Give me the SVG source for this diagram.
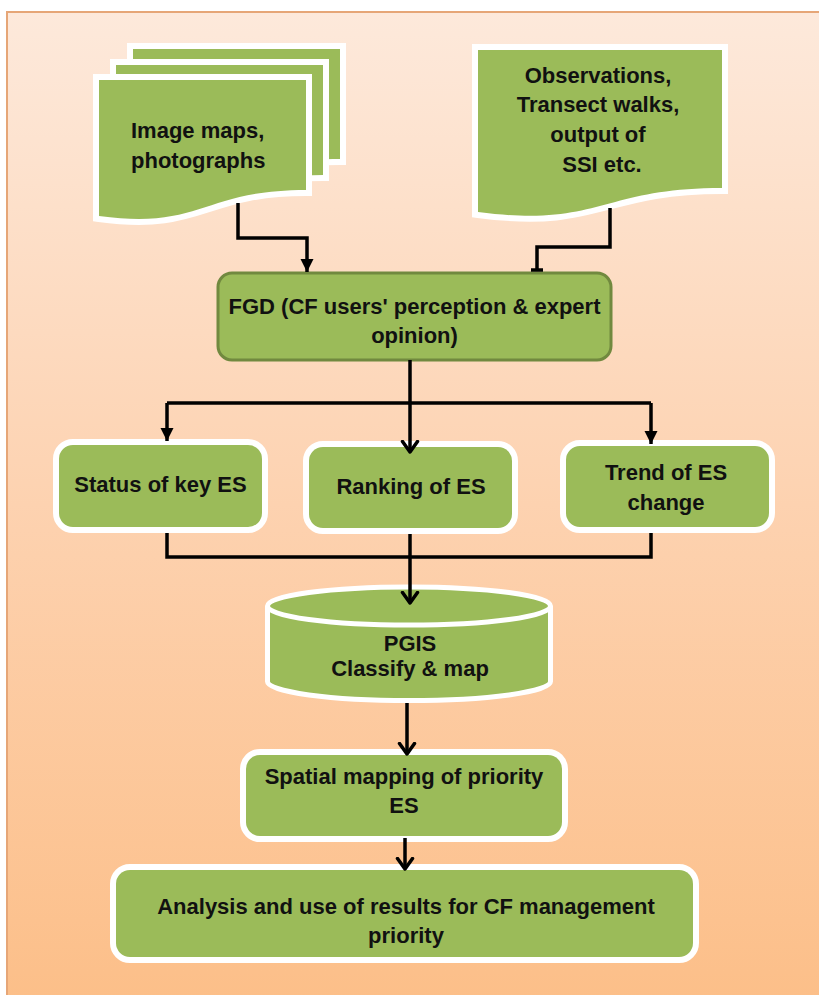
<svg xmlns="http://www.w3.org/2000/svg" width="819" height="995" viewBox="0 0 819 995">
<defs>
<linearGradient id="bg" x1="0" y1="0" x2="0" y2="1">
<stop offset="0" stop-color="#fde9db"/>
<stop offset="0.5" stop-color="#fdd2b0"/>
<stop offset="1" stop-color="#fcbf89"/>
</linearGradient>
<marker id="tri" markerUnits="userSpaceOnUse" markerWidth="15" markerHeight="15" refX="13" refY="6.5" orient="auto" viewBox="0 0 15 13">
<path d="M0,0 L13,6.5 L0,13 z" fill="#000"/>
</marker>
<marker id="chev" markerUnits="userSpaceOnUse" markerWidth="16" markerHeight="20" refX="12" refY="9" orient="auto" viewBox="0 0 16 18">
<path d="M1.5,1.5 L12,9 L1.5,16.5" fill="none" stroke="#000" stroke-width="3.5" stroke-linecap="round" stroke-linejoin="round"/>
</marker>
<style>
.node{fill:#9bbb59;stroke:#fff;stroke-width:12;paint-order:stroke;}
.doc{fill:#9bbb59;stroke:#fff;stroke-width:12;paint-order:stroke;stroke-linejoin:miter;}
.fgd{fill:#9bbb59;stroke:#71893f;stroke-width:3;}
.cyl{fill:#9bbb59;stroke:#fff;stroke-width:5;}
.lbl{font-family:"Liberation Sans",Arial,sans-serif;font-weight:bold;font-size:22px;fill:#111;}
.mid{text-anchor:middle;}
.conn{fill:none;stroke:#000;stroke-width:3.5;}
</style>
</defs>
<rect x="0" y="0" width="819" height="995" fill="#fff"/>
<rect x="7" y="12" width="814" height="985" fill="url(#bg)" stroke="#e6a677" stroke-width="2"/>

<g id="image-maps">
<path class="doc" d="M133,49 H340 V159 C236,159 236,199 133,185 Z"/>
<path class="doc" d="M116,65 H323 V175 C219,175 219,215 116,201 Z"/>
<path class="doc" d="M99,80 H306 V190 C202,190 202,230 99,216 Z"/>
<text class="lbl" x="131" y="138">Image maps,</text>
<text class="lbl" x="131" y="168">photographs</text>
</g>

<g id="observations">
<path class="doc" d="M478,50 H722 V188 C600,188 600,228 478,212 Z"/>
<text class="lbl mid" x="598" y="83">Observations,</text>
<text class="lbl mid" x="598" y="112">Transect walks,</text>
<text class="lbl mid" x="598" y="142">output of</text>
<text class="lbl mid" x="602" y="172">SSI etc.</text>
</g>

<g id="fgd">
<rect class="fgd" x="218" y="273" width="393" height="87" rx="14"/>
<text class="lbl mid" x="414.5" y="314">FGD (CF users' perception &amp; expert</text>
<text class="lbl mid" x="414.5" y="343">opinion)</text>
</g>

<g id="status">
<rect class="node" x="59" y="445" width="203" height="82" rx="14"/>
<text class="lbl mid" x="160.5" y="492">Status of key ES</text>
</g>

<g id="ranking">
<rect class="node" x="309" y="447" width="203" height="81" rx="14"/>
<text class="lbl mid" x="411" y="494">Ranking of ES</text>
</g>

<g id="trend">
<rect class="node" x="566" y="446" width="203" height="81" rx="14"/>
<text class="lbl mid" x="666" y="480">Trend of ES</text>
<text class="lbl mid" x="666" y="510">change</text>
</g>

<g id="pgis">
<path class="cyl" d="M267.5,606 V681.5 A141.5,19 0 0 0 550.5,681.5 V606"/>
<ellipse class="cyl" cx="409" cy="606" rx="141.5" ry="19"/>
<text class="lbl mid" x="410" y="651">PGIS</text>
<text class="lbl mid" x="410" y="676">Classify &amp; map</text>
</g>

<g id="spatial">
<rect class="node" x="246" y="755" width="316" height="81" rx="14"/>
<text class="lbl mid" x="404" y="784">Spatial mapping of priority</text>
<text class="lbl mid" x="404" y="813">ES</text>
</g>

<g id="analysis">
<rect class="node" x="116" y="870" width="577" height="87" rx="14"/>
<text class="lbl mid" x="406" y="914">Analysis and use of results for CF management</text>
<text class="lbl mid" x="406" y="943">priority</text>
</g>

<g id="connectors">
<path class="conn" d="M238,203 V238 H307 V272" marker-end="url(#tri)"/>
<path class="conn" d="M610,208 V247 H537 V270"/>
<path class="conn" d="M531,270 H543"/>
<path class="conn" d="M410,360 V452" marker-end="url(#chev)"/>
<path class="conn" d="M167,403 H651"/>
<path class="conn" d="M167,403 V441" marker-end="url(#tri)"/>
<path class="conn" d="M651,403 V444" marker-end="url(#tri)"/>
<path class="conn" d="M167,533 V557 H651 V533"/>
<path class="conn" d="M410,534 V603" marker-end="url(#chev)"/>
<path class="conn" d="M407,703 V754" marker-end="url(#chev)"/>
<path class="conn" d="M405,838 V869" marker-end="url(#chev)"/>
</g>
</svg>
